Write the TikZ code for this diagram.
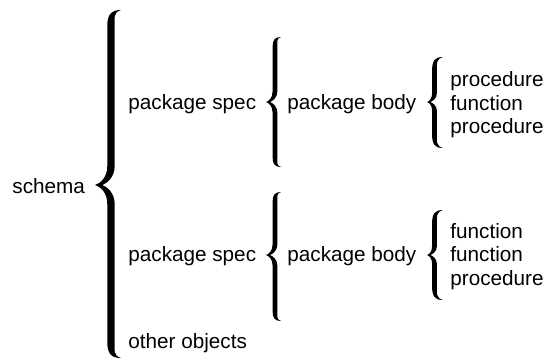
\documentclass[tikz,border=0pt]{standalone}
\usepackage{fontspec}
\setmainfont{Liberation Sans}
% #1 tip x, #2 tip y, #3 stroke x, #4 end x, #5 top y, #6 bottom y, #7 half width
\newcommand\drawcurly[7]{%
 \pgfmathsetmacro\cRe{(#4-#3)*1.6}%
 \pgfmathsetmacro\cRm{(#3-#1)*1.2}%
 \pgfmathsetmacro\cNx{#1+0.45*(#3-#1)}%
 \fill[black] (#4,#5)
  .. controls (#3,#5) and ({#3-#7},{#5+0.3*\cRe}) .. ({#3-#7},{#5+\cRe})
  -- ({#3-#7},{#2-\cRm})
  .. controls ({#3-#7},{#2-0.35*\cRm}) and ({#1+0.3*(#3-#1)},{#2-0.08*\cRm}) .. (#1,#2)
  .. controls ({#1+0.3*(#3-#1)},{#2+0.08*\cRm}) and ({#3-#7},{#2+0.35*\cRm}) .. ({#3-#7},{#2+\cRm})
  -- ({#3-#7},{#6-\cRe})
  .. controls ({#3-#7},{#6-0.3*\cRe}) and (#3,#6) .. (#4,#6)
  .. controls ({#3+0.5*#7},{#6-0.15*\cRe}) and ({#3+#7},{#6-0.5*\cRe}) .. ({#3+#7},{#6-\cRe})
  -- ({#3+#7},{#2+\cRm})
  .. controls ({#3+#7},{#2+0.4*\cRm}) and ({\cNx+0.3*(#3-#1)},{#2+0.1*\cRm}) .. (\cNx,#2)
  .. controls ({\cNx+0.3*(#3-#1)},{#2-0.1*\cRm}) and ({#3+#7},{#2-0.4*\cRm}) .. ({#3+#7},{#2-\cRm})
  -- ({#3+#7},{#5+\cRe})
  .. controls ({#3+#7},{#5+0.5*\cRe}) and ({#3+0.5*#7},{#5+0.15*\cRe}) .. (#4,#5) -- cycle;}
\begin{document}
\begin{tikzpicture}[x=0.5pt,y=-0.5pt,
  lbl/.style={anchor=base west, inner sep=0pt, font=\fontsize{10.35}{12}\selectfont}]
\useasboundingbox (0,0) rectangle (550,361);
% labels
\node[lbl] (schema) at (12,193) {schema};
\node[lbl] (spec1) at (128,109) {package spec};
\node[lbl] (body1) at (287,109) {package body};
\node[lbl] (p11) at (450,86.5) {procedure};
\node[lbl] (p12) at (450,110) {function};
\node[lbl] (p13) at (450,133) {procedure};
\node[lbl] (spec2) at (128,261.5) {package spec};
\node[lbl] (body2) at (287,261.5) {package body};
\node[lbl] (p21) at (450,238) {function};
\node[lbl] (p22) at (450,261.5) {function};
\node[lbl] (p23) at (450,285) {procedure};
\node[lbl] (other) at (128,348) {other objects};
% braces
\drawcurly{95}{185}{111}{121}{10}{358}{3.7}
\drawcurly{266}{102}{275}{281}{37}{167}{2.4}
\drawcurly{266}{255}{275}{281}{192}{321}{2.4}
\drawcurly{427}{102}{434.5}{443}{57}{148}{2.4}
\drawcurly{427}{255}{434.5}{443}{210}{300}{2.4}
\end{tikzpicture}
\end{document}
